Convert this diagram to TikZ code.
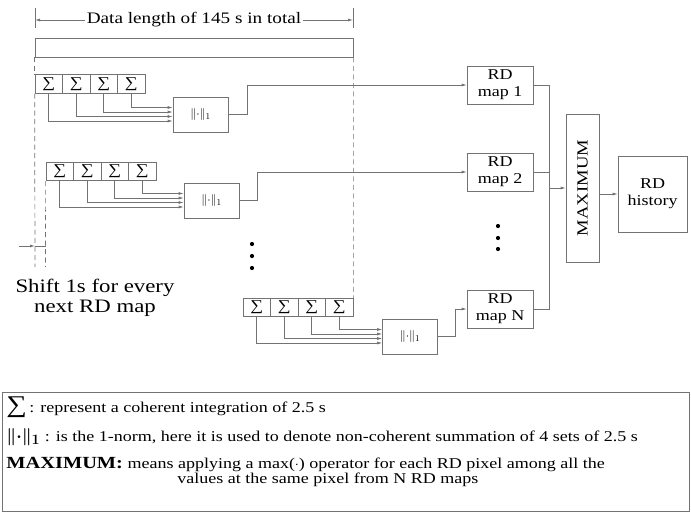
\documentclass[tikz,border=0pt]{standalone}
\usepackage{fontspec}
\setmainfont{Liberation Serif}[FakeStretch=1.2]
\usepackage{tikz}
\usetikzlibrary{calc,chains,arrows.meta,positioning}
\definecolor{linegray}{rgb}{0.45,0.45,0.45}
\tikzset{
	sumcell/.style={
		draw=linegray, rectangle, on chain,
		minimum width=27.5pt, minimum height=18.5pt,
		inner sep=0pt, text=black, font=\fontsize{15}{15}\selectfont
	},
	normbox/.style={
		draw=linegray, rectangle, minimum width=55pt, minimum height=35pt,
		inner sep=0pt, text=black, font=\fontsize{13}{13}\selectfont
	},
	mapbox/.style={
		draw=linegray, rectangle, minimum width=66pt, minimum height=38pt,
		inner sep=0pt, align=center, font=\fontsize{15}{17}\selectfont
	},
	feed_arrow/.style={-{Latex[length=5pt,width=3pt]}, linegray, line width=0.7pt},
	bus_line/.style={linegray, line width=0.7pt},
	guide/.style={linegray, line width=0.7pt, dash pattern=on 5pt off 3.5pt},
	legend_text/.style={anchor=west, inner sep=0pt, font=\fontsize{15}{17}\selectfont}
}
\begin{document}
\begin{tikzpicture}[x=1pt, y=-1pt, line width=0.7pt, node distance=-0.7pt]
				\useasboundingbox (0,0) rectangle (691,512);
				\node[draw=linegray, minimum width=318pt, minimum height=19pt, inner sep=0pt] (data) at (194,47.5) {};
				\draw[bus_line] (35,8) -- (35,28) (353,8) -- (353,28);
				\node[fill=white, inner sep=1pt, font=\fontsize{16}{18}\selectfont] (len) at (194,20) {Data length of 145 s in total};
				\draw[feed_arrow] (len.west) -- (35,20);
				\draw[feed_arrow] (len.east) -- (353,20);
				\begin{scope}[start chain=r1 going right]
					\node[sumcell] (s11) at (48.75,84) {∑};
					\node[sumcell] (s12) {∑};
					\node[sumcell] (s13) {∑};
					\node[sumcell] (s14) {∑};
				\end{scope}
				\begin{scope}[start chain=r2 going right]
					\node[sumcell] (s21) at (59.75,171.5) {∑};
					\node[sumcell] (s22) {∑};
					\node[sumcell] (s23) {∑};
					\node[sumcell] (s24) {∑};
				\end{scope}
				\begin{scope}[start chain=r3 going right]
					\node[sumcell] (s31) at (256.75,307.5) {∑};
					\node[sumcell] (s32) {∑};
					\node[sumcell] (s33) {∑};
					\node[sumcell] (s34) {∑};
				\end{scope}
				\node[normbox] (n1) at (200.5,114.5) {$\|{\cdot}\|_1$};
				\node[normbox] (n2) at (211.5,200.5) {$\|{\cdot}\|_1$};
				\node[normbox] (n3) at (410,336.5) {$\|{\cdot}\|_1$};
				\node[mapbox] (map1) at (500,85) {RD\\map 1};
				\node[mapbox] (map2) at (500,172) {RD\\map 2};
				\node[mapbox] (mapN) at (500,309) {RD\\map N};
				\node[draw=linegray, minimum width=33pt, minimum height=148pt, inner sep=0pt] (maxbox) at (582.5,188) {};
				\node[rotate=90, inner sep=0pt, font=\fontsize{15.5}{15.5}\selectfont] (maxlabel) at (maxbox.center) {MAXIMUM};
				\node[mapbox, minimum width=69pt, minimum height=76pt] (hist) at (652.5,194) {RD\\history};
				\draw[guide] (data.south west) -- (s11.north west);
				\draw[guide] (s11.south west) -- (35,267);
				\draw[guide] (s21.south west) -- (45.5,267);
				\draw[guide] (data.south east) -- (s34.north east);
				\draw[feed_arrow] (19,246) -- (35,246);
				\draw[bus_line] (35,246) -- (45.5,246);
				\node[align=center, inner sep=0pt, font=\fontsize{19}{20}\selectfont] (shift) at (95,298) {Shift 1s for every\\next RD map};
				\foreach \r in {1,2,3}
					\foreach \k/\off in {1/6.5,2/2,3/-2.5,4/-7}
						\draw[feed_arrow] (s\r\k.south) |- ($(n\r.west)+(0,\off)$);
				\draw[feed_arrow] (n1.east) -- ++(19,0) |- (map1.west);
				\draw[feed_arrow] (n2.east) -- ++(18,0) |- (map2.west);
				\draw[feed_arrow] (n3.east) -- ++(17,0) |- (mapN.west);
				\draw[bus_line] (map1.east) -- ++(16,0) coordinate (bus) |- (mapN.east);
				\draw[bus_line] (map2.east) -- (bus |- map2.east);
				\draw[feed_arrow] (bus |- maxbox.west) -- (maxbox.west);
				\draw[feed_arrow] (maxbox.east |- hist.west) -- (hist.west);
				\foreach \y in {244,256,268} \fill (252,\y) circle (2.1);
				\foreach \y in {226,238,249} \fill (498,\y) circle (2.1);
				\node[draw=linegray, minimum width=687pt, minimum height=119pt, inner sep=0pt] (legend) at (345.5,451.5) {};
				\node[legend_text] (lsum) at (6,407) {{\fontsize{24}{24}\selectfont ∑}\,: represent a coherent integration of 2.5 s};
				\node[legend_text] (lnorm) at (6,437) {{\fontsize{19}{19}\selectfont\boldmath$\|{\cdot}\|_1$} : is the 1-norm, here it is used to denote non-coherent summation of 4 sets of 2.5 s};
				\node[legend_text] (lmax) at (6,464) {{\fontsize{17}{17}\selectfont\bfseries MAXIMUM:} means applying a max($\cdot$) operator for each RD pixel among all the};
				\node[legend_text] (lval) at (177,480) {values at the same pixel from N RD maps};
			\end{tikzpicture}
\end{document}
